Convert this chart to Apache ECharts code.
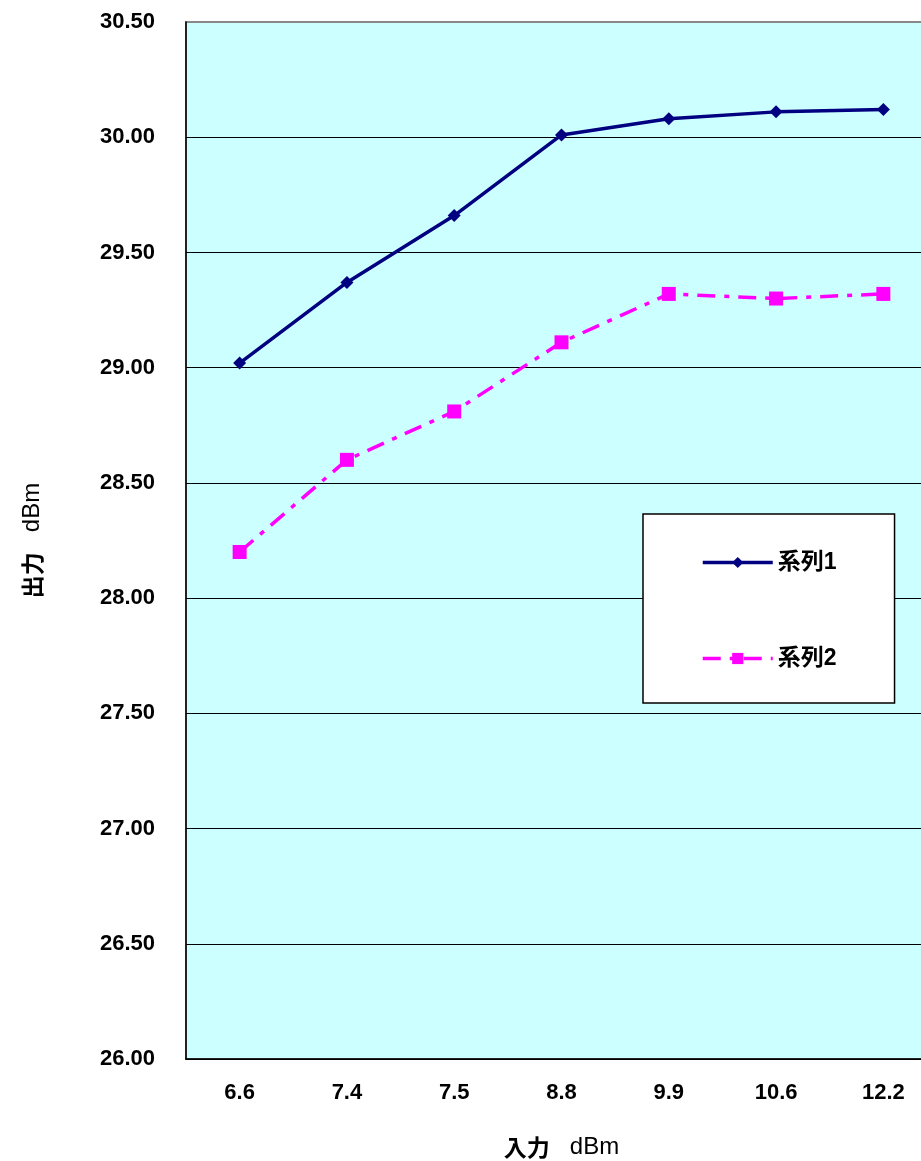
<!DOCTYPE html>
<html><head><meta charset="utf-8">
<script src="https://cdn.jsdelivr.net/npm/echarts@6/dist/echarts.min.js"></script>
<style>html,body{margin:0;padding:0;background:#fff;overflow:hidden}#c{width:921px;height:1161px}</style>
</head><body><div id="c"></div>
<script>
const categories = ['6.6','7.4','7.5','8.8','9.9','10.6','12.2'];
const series1 = [29.02, 29.37, 29.66, 30.01, 30.08, 30.11, 30.12];
const series2 = [28.20, 28.60, 28.81, 29.11, 29.32, 29.30, 29.32];
const seriesNames = ['系列1','系列2'];
const yMin = 26, yMax = 30.5, yStep = 0.5;

const chart = echarts.init(document.getElementById('c'), null, {renderer:'canvas', width:921, height:1161});
const font = '"Liberation Sans", Arial, "Noto Sans CJK JP", sans-serif';
const nameRich = {
  a:{fontFamily:'"Noto Sans CJK JP", sans-serif', fontSize:23, fontWeight:'bold', color:'#000'},
  b:{fontFamily:font, fontSize:24, fontWeight:'normal', color:'#000'}
};
chart.setOption({
  animation:false,
  backgroundColor:'#ffffff',
  textStyle:{fontFamily:font},
  grid:{left:186, top:22, width:751, height:1037, outerBoundsMode:'none', containLabel:false,
        show:true, backgroundColor:'#CCFFFF', borderColor:'#888888', borderWidth:2},
  legend:{
    orient:'vertical', left:643, top:514,
    backgroundColor:'#ffffff', borderColor:'#000000', borderWidth:1.5,
    padding:[37,58,33,58], itemGap:73, itemWidth:70, itemHeight:14,
    lineStyle:{width:3.5},
    textStyle:{fontFamily:font, fontSize:23, fontWeight:'bold', color:'#000'},
    data:seriesNames
  },
  xAxis:{
    type:'category', data:categories, boundaryGap:true,
    name:'{a|入力}{b|   dBm}', nameLocation:'middle', nameGap:76,
    nameTextStyle:{rich:nameRich},
    axisLine:{lineStyle:{color:'#000', width:1.5}},
    axisTick:{inside:true, length:7, lineStyle:{color:'#000'}},
    axisLabel:{fontFamily:font, fontSize:22, fontWeight:'bold', color:'#000', margin:23}
  },
  yAxis:{
    type:'value', min:yMin, max:yMax, interval:yStep,
    name:'{a|出力}{b|   dBm}', nameLocation:'middle', nameGap:142,
    nameTextStyle:{rich:nameRich},
    axisLine:{show:true, lineStyle:{color:'#000', width:1.5}},
    axisTick:{show:false},
    axisLabel:{fontFamily:font, fontSize:22, fontWeight:'bold', color:'#000', margin:31, formatter:v=>v.toFixed(2)},
    splitLine:{lineStyle:{color:['#000','#000','#000','#000','#000','#000','#000','#000','#000','#888'], width:1}}
  },
  series:[
    {name:seriesNames[0], type:'line', data:series1, symbol:'diamond', symbolSize:13,
     itemStyle:{color:'#000080'}, lineStyle:{color:'#000080', width:3.5}},
    {name:seriesNames[1], type:'line', data:series2, symbol:'rect', symbolSize:14,
     itemStyle:{color:'#FF00FF'}, lineStyle:{color:'#FF00FF', width:3.5, type:[18,9,5,9]}}
  ]
});
</script></body></html>
